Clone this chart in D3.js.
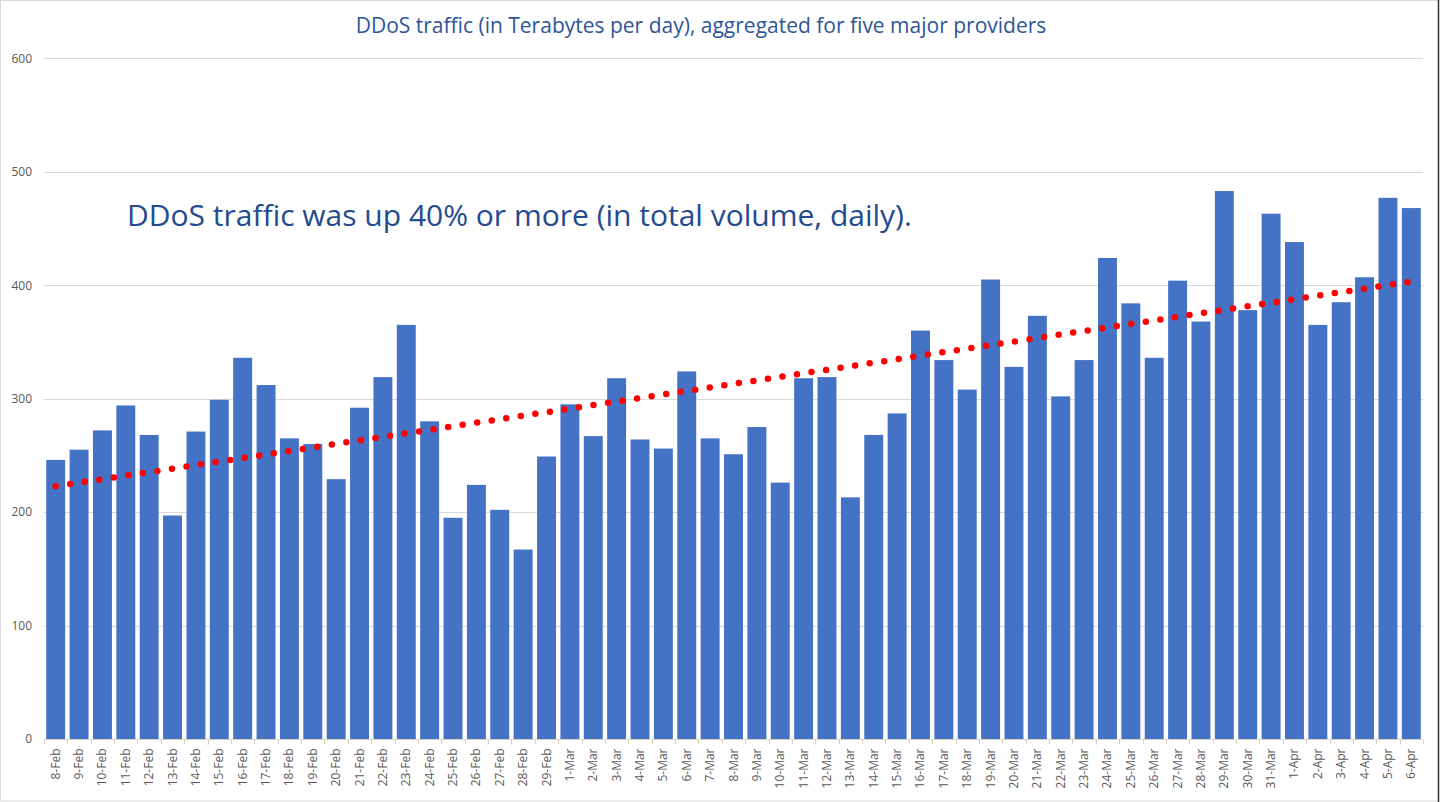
<!DOCTYPE html>
<html>
<head>
<meta charset="utf-8">
<script src="https://cdn.jsdelivr.net/npm/d3@7"></script>
<style>
  html, body { margin: 0; padding: 0; background: #fff; }
  svg { display: block; }
</style>
</head>
<body>
<svg id="chart" width="1440" height="802"></svg>
<script>
const categories = [
  "8-Feb","9-Feb","10-Feb","11-Feb","12-Feb","13-Feb","14-Feb","15-Feb","16-Feb","17-Feb",
  "18-Feb","19-Feb","20-Feb","21-Feb","22-Feb","23-Feb","24-Feb","25-Feb","26-Feb","27-Feb",
  "28-Feb","29-Feb","1-Mar","2-Mar","3-Mar","4-Mar","5-Mar","6-Mar","7-Mar","8-Mar",
  "9-Mar","10-Mar","11-Mar","12-Mar","13-Mar","14-Mar","15-Mar","16-Mar","17-Mar","18-Mar",
  "19-Mar","20-Mar","21-Mar","22-Mar","23-Mar","24-Mar","25-Mar","26-Mar","27-Mar","28-Mar",
  "29-Mar","30-Mar","31-Mar","1-Apr","2-Apr","3-Apr","4-Apr","5-Apr","6-Apr"
];
const traffic = [
  246,255,272,294,268,197,271,299,336,312,
  265,260,229,292,319,365,280,195,224,202,
  167,249,295,267,318,264,256,324,265,251,
  275,226,318,319,213,268,287,360,334,308,
  405,328,373,302,334,424,384,336,404,368,
  483,378,463,438,365,385,407,477,468
];
const yTicks = [0,100,200,300,400,500,600];
const titleText = "DDoS traffic (in Terabytes per day), aggregated for five major providers";
const noteText = "DDoS traffic was up 40% or more (in total volume, daily).";

const svg = d3.select("#chart");
const W = 1440, H = 802;
const plot = { left: 44, right: 1423, top: 58.3, bottom: 739 };

// chart border
svg.append("rect").attr("x",0.5).attr("y",0.5).attr("width",W-2).attr("height",H-1.5)
  .attr("fill","#fff").attr("stroke","#d9d9d9");
svg.append("line").attr("x1",W-1.5).attr("x2",W-1.5).attr("y1",0).attr("y2",H)
  .attr("stroke","#333").attr("stroke-width",1.5);

const x = d3.scaleBand().domain(categories).range([plot.left, plot.right])
  .paddingInner(0.19).paddingOuter(0.095);
const y = d3.scaleLinear().domain([0,600]).range([plot.bottom, plot.top]);

// gridlines
svg.append("g").selectAll("line").data(yTicks.filter(d=>d>0)).join("line")
  .attr("x1", plot.left).attr("x2", plot.right)
  .attr("y1", d=>Math.round(y(d))+0.5).attr("y2", d=>Math.round(y(d))+0.5)
  .attr("stroke","#d9d9d9").attr("stroke-width",1);

// y axis labels
const yAxis = d3.axisLeft(y).tickValues(yTicks).tickSize(0).tickPadding(12);
const gy = svg.append("g").attr("transform",`translate(${plot.left},0)`).call(yAxis);
gy.select(".domain").remove();
gy.selectAll("text").attr("font-family","'Open Sans', sans-serif").attr("font-size",12)
  .attr("fill","#595959");

// bars
svg.append("g").selectAll("rect").data(categories).join("rect")
  .attr("x", d=>x(d)).attr("width", x.bandwidth())
  .attr("y", (d,i)=>y(traffic[i])).attr("height",(d,i)=>y(0)-y(traffic[i]))
  .attr("fill","#4472c4");

// x axis
const step = x.step();
const gx = svg.append("g").attr("transform",`translate(0,${plot.bottom+0.5})`);
gx.append("line").attr("x1",plot.left).attr("x2",plot.right).attr("stroke","#d9d3c4");
const bounds = categories.map(c => x(c) - x.paddingInner()*step/2);
bounds.push(plot.right);
gx.selectAll("line.tk").data(bounds).join("line").attr("class","tk")
  .attr("x1",d=>Math.round(d)+0.5).attr("x2",d=>Math.round(d)+0.5)
  .attr("y1",0).attr("y2",5).attr("stroke","#d9d3c4");
gx.selectAll("text").data(categories).join("text")
  .attr("transform", d=>`translate(${x(d)+x.bandwidth()/2+4},${9}) rotate(-90)`)
  .attr("text-anchor","end")
  .attr("font-family","'Open Sans', sans-serif").attr("font-size",12)
  .attr("fill","#595959").text(d=>d);

// linear trendline (least squares on the data)
const n = traffic.length;
const xs = d3.range(n);
const mx = d3.mean(xs), my = d3.mean(traffic);
const slope = d3.sum(xs, i => (i-mx)*(traffic[i]-my)) / d3.sum(xs, i => (i-mx)*(i-mx));
const intercept = my - slope*mx;
const trend = xs.map(i => [x(categories[i]) + x.bandwidth()/2, y(intercept + slope*i)]);
svg.append("path").attr("d", d3.line()(trend))
  .attr("fill","none").attr("stroke","#ff0000").attr("stroke-width",6.5)
  .attr("stroke-linecap","round").attr("stroke-dasharray","0 14.7");

// title
svg.append("text").attr("x",701).attr("y",33).attr("text-anchor","middle")
  .attr("font-family","'Open Sans', sans-serif").attr("font-size",21)
  .attr("fill","#2f5597").text(titleText);

// annotation
svg.append("text").attr("x",127).attr("y",226)
  .attr("font-family","'Open Sans', sans-serif").attr("font-size",30)
  .attr("fill","#244a8f").text(noteText);
</script>
</body>
</html>
